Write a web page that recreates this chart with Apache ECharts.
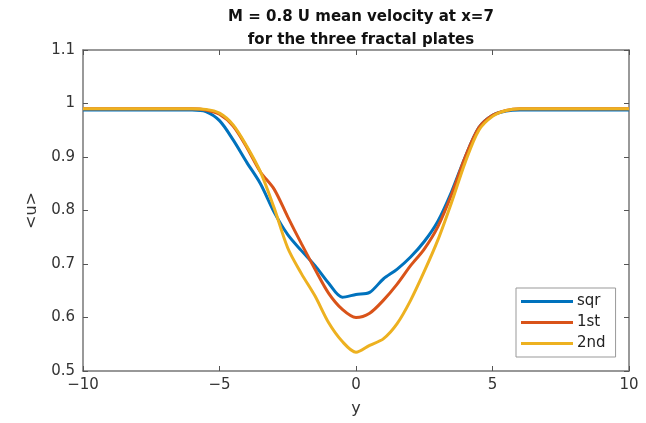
<!DOCTYPE html>
<html>
<head>
<meta charset="utf-8">
<script src="https://cdn.jsdelivr.net/npm/echarts@6/dist/echarts.min.js"></script>
<style>
  html, body { margin: 0; padding: 0; background: #fff; }
  #chart { width: 646px; height: 423px; }
</style>
</head>
<body>
<div id="chart"></div>
<script>
// position across the wake, y
const yPos = [-10, -9, -8, -7, -6, -5.5, -5, -4.5, -4, -3.5, -3, -2.5, -2, -1.5, -1, -0.5, 0, 0.5, 1, 1.5, 2, 2.5, 3, 3.5, 4, 4.5, 5, 5.5, 6, 7, 8, 9, 10];
// mean velocity <u> for each plate
const sqr = [0.988, 0.988, 0.988, 0.988, 0.988, 0.985, 0.968, 0.932, 0.89, 0.85, 0.797, 0.755, 0.725, 0.697, 0.664, 0.638, 0.643, 0.647, 0.672, 0.69, 0.713, 0.742, 0.78, 0.835, 0.9, 0.955, 0.978, 0.986, 0.988, 0.988, 0.988, 0.988, 0.988];
const first = [0.99, 0.99, 0.99, 0.99, 0.99, 0.988, 0.98, 0.958, 0.918, 0.872, 0.84, 0.788, 0.738, 0.69, 0.645, 0.615, 0.6, 0.608, 0.632, 0.662, 0.697, 0.728, 0.77, 0.83, 0.9, 0.955, 0.978, 0.987, 0.99, 0.99, 0.99, 0.99, 0.99];
const second = [0.99, 0.99, 0.99, 0.99, 0.99, 0.989, 0.982, 0.96, 0.92, 0.872, 0.805, 0.73, 0.682, 0.64, 0.59, 0.555, 0.535, 0.548, 0.56, 0.588, 0.632, 0.686, 0.745, 0.815, 0.89, 0.95, 0.976, 0.987, 0.99, 0.99, 0.99, 0.99, 0.99];
const names = ['sqr', '1st', '2nd'];
const colors = ['#0072BD', '#D95319', '#EDB120'];

const chart = echarts.init(document.getElementById('chart'));
const font = 'DejaVu Sans';
const axisColor = '#777';

function pairs(vals) {
    return yPos.map((x, i) => [x, vals[i]]);
}

const boxAxis = {
    axisLine: { show: true, onZero: false, lineStyle: { color: axisColor, width: 1.5 } },
    axisTick: { show: true, inside: true, length: 5, lineStyle: { color: '#555' } },
    splitLine: { show: false }
};

const options = {
    animation: false,
    color: colors,
    title: {
        text: 'M = 0.8 U mean velocity at x=7\nfor the three fractal plates',
        left: 356,
        textAlign: 'center',
        top: 1,
        textStyle: { fontFamily: font, fontSize: 15, fontWeight: 'bold', color: '#111', lineHeight: 23 }
    },
    grid: { left: 83, right: 17, top: 50, bottom: 52 },
    legend: {
        orient: 'vertical',
        left: 516,
        top: 288,
        padding: [6, 10, 6, 5],
        itemGap: 6,
        itemWidth: 52,
        itemHeight: 3,
        icon: 'rect',
        borderColor: '#999',
        borderWidth: 1,
        backgroundColor: '#fff',
        textStyle: { fontFamily: font, fontSize: 15, color: '#222', padding: [0, 0, 0, -1] },
        data: names
    },
    xAxis: [
        Object.assign({
            type: 'value', min: -10, max: 10, interval: 5,
            name: 'y', nameLocation: 'middle', nameGap: 30,
            nameTextStyle: { fontFamily: font, fontSize: 16, color: '#333' },
            axisLabel: {
                fontFamily: font, fontSize: 15, color: '#333', margin: 7,
                formatter: v => String(v).replace('-', '\u2212')
            }
        }, boxAxis),
        Object.assign({
            type: 'value', min: -10, max: 10, interval: 5, position: 'top',
            axisLabel: { show: false }
        }, boxAxis)
    ],
    yAxis: [
        Object.assign({
            type: 'value', min: 0.5, max: 1.1, interval: 0.1,
            name: '<u>', nameLocation: 'middle', nameGap: 42, nameRotate: 90,
            nameTextStyle: { fontFamily: font, fontSize: 16, color: '#333' },
            axisLabel: {
                fontFamily: font, fontSize: 15, color: '#333', margin: 8,
                formatter: v => String(+v.toFixed(1))
            }
        }, boxAxis),
        Object.assign({
            type: 'value', min: 0.5, max: 1.1, interval: 0.1, position: 'right',
            axisLabel: { show: false }
        }, boxAxis)
    ],
    series: [sqr, first, second].map((vals, i) => ({
        name: names[i],
        type: 'line',
        data: pairs(vals),
        smooth: 0.3,
        showSymbol: false,
        symbol: 'none',
        lineStyle: { width: 3, color: colors[i] },
        itemStyle: { color: colors[i] },
        z: 2 + i
    }))
};

chart.setOption(options, true);
</script>
</body>
</html>
